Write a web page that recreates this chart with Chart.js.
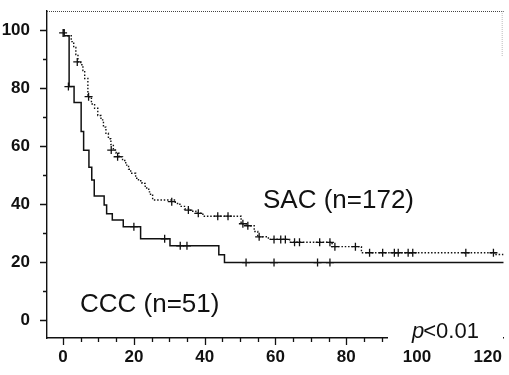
<!DOCTYPE html>
<html><head><meta charset="utf-8">
<script src="https://cdn.jsdelivr.net/npm/chart.js@4.4.0/dist/chart.umd.min.js"></script>
<style>html,body{margin:0;padding:0;background:#fff;} #wrap{width:509px;height:375px;}</style>
</head><body><div id="wrap"><canvas id="c" width="509" height="375"></canvas></div>
<script>
// Kaplan-Meier step curves (time in months, survival %)
const sacTimes = [0,0.3,2.3,3.0,3.6,4.2,5.0,5.6,6.1,7.0,8.0,8.9,9.8,10.7,11.4,12.1,12.8,13.5,14.2,15.0,15.8,16.8,17.7,18.5,19.1,20.5,21.3,22.3,23.2,24.2,24.7,25.3,31.7,33.0,34.3,36.0,37.5,39.5,50.3,51.8,54.0,55.0,58.0,64.0,76.0,84.3,122.0,124.5];
const sacSurvival = [100,98,96,94,91.5,89,88,86,83.3,77,74.5,73,70.5,69,66.5,64.4,62.5,60.5,58.6,57.5,56.3,55,53.4,52,50.6,48.9,48,47.1,45.5,44.2,43,41.4,40.2,39.2,38.3,37.5,36.8,35.8,33.2,32.5,30.5,28.7,27.8,26.8,25.3,23.2,22.6,22.6];
const cccTimes = [0,0.3,1.7,3.1,5.1,5.8,7.3,8.1,8.8,11.6,12.3,13.9,17.0,21.9,30.2,44.0,45.6,124.5];
const cccSurvival = [100,98,80.5,75,65,58.5,52.7,48.3,42.8,39.7,36.6,34.5,32.2,28,25.6,22.5,19.8,19.8];
// censored observations
const sacCensorTimes = [0,4.0,7.2,13.6,15.4,30.7,35.4,38.2,43.7,46.6,50.8,52.2,55.4,59.6,61.5,62.8,65.4,66.8,72.5,75.4,76.8,82.6,86.6,90.3,93.6,94.7,97.5,98.8,113.8,121.6];
const sacCensorSurv = [99,89,77,58.6,56.3,40.8,37.9,36.8,35.8,35.8,33.2,32.5,28.7,27.8,27.8,27.8,26.8,26.8,26.8,26.8,25.3,25.3,23.2,23.2,23.2,23.2,23.2,23.2,23.2,23.2];
const cccCensorTimes = [1.5,20.0,28.7,33.1,35.0,51.7,59.6,71.9,75.4];
const cccCensorSurv = [80.5,32.2,28,25.6,25.6,19.8,19.8,19.8,19.8];
// tick labels
const xTickLabels = [0,20,40,60,80,100,120];
const yTickLabels = [0,20,40,60,80,100];
const xMinorTicks = [0,5,10,15,20,25,30,35,40,45,50,55,60,65,70,75,80,85,90,95,100,105,110,115,120];
const yMinorTicks = [0,10,20,30,40,50,60,70,80,90,100];
const seriesNames = ['SAC (n=172)','CCC (n=51)'];

const pts = (xs, ys) => xs.map((t, i) => ({x: t, y: ys[i]}));
const INK = '#111';
const FONT = '"Liberation Sans", Arial, sans-serif';

const decor = {
  id: 'decor',
  afterDraw(chart) {
    const ctx = chart.ctx, a = chart.chartArea;
    const xs = chart.scales.x, ys = chart.scales.y;
    ctx.save();
    ctx.strokeStyle = INK; ctx.lineWidth = 1.3;
    // ticks
    ctx.beginPath();
    yMinorTicks.forEach(v => {
      const y = Math.round(ys.getPixelForValue(v)) + 0.5;
      const len = yTickLabels.includes(v) ? 7 : 4;
      ctx.moveTo(a.left - len, y); ctx.lineTo(a.left, y);
    });
    xMinorTicks.forEach(v => {
      const x = Math.round(xs.getPixelForValue(v)) + 0.5;
      const len = xTickLabels.includes(v) ? 7 : 4;
      ctx.moveTo(x, a.bottom); ctx.lineTo(x, a.bottom + len);
    });
    ctx.stroke();
    // top dotted frame
    ctx.strokeStyle = '#444'; ctx.lineWidth = 1; ctx.setLineDash([1, 1]);
    ctx.beginPath(); ctx.moveTo(a.left, a.top + 0.5); ctx.lineTo(a.right, a.top + 0.5); ctx.stroke();
    ctx.strokeStyle = '#bbb';
    ctx.beginPath(); ctx.moveTo(a.right - 1.5, a.top); ctx.lineTo(a.right - 1.5, a.top + 45); ctx.stroke();
    ctx.setLineDash([]);
    // group labels
    ctx.fillStyle = INK;
    ctx.font = '26px ' + FONT;
    ctx.textBaseline = 'alphabetic';
    ctx.fillText(seriesNames[0], 263, 208);
    ctx.fillText(seriesNames[1], 80, 311.5);
    // p-value with white box covering axis
    ctx.fillStyle = '#fff';
    ctx.fillRect(388, 318, 115, 28);
    ctx.fillStyle = INK;
    ctx.font = 'italic 22px ' + FONT;
    ctx.fillText('p', 412, 338);
    const w = ctx.measureText('p').width;
    ctx.font = '22px ' + FONT;
    ctx.fillText('<0.01', 412 + w - 1, 338);
    ctx.restore();
  }
};

new Chart(document.getElementById('c'), {
  type: 'line',
  data: {
    datasets: [
      {label: seriesNames[0], data: pts(sacTimes, sacSurvival), stepped: true, borderColor: INK, borderWidth: 1.4, borderDash: [1.5, 1.8], pointRadius: 0, fill: false},
      {label: seriesNames[1], data: pts(cccTimes, cccSurvival), stepped: true, borderColor: INK, borderWidth: 1.5, pointRadius: 0, fill: false},
      {label: 'sac censored', data: pts(sacCensorTimes, sacCensorSurv), showLine: false, pointStyle: 'cross', pointRadius: 4, pointBorderWidth: 1.3, pointBorderColor: INK, borderColor: INK},
      {label: 'ccc censored', data: pts(cccCensorTimes, cccCensorSurv), showLine: false, pointStyle: 'cross', pointRadius: 4, pointBorderWidth: 1.3, pointBorderColor: INK, borderColor: INK}
    ]
  },
  options: {
    responsive: false,
    animation: false,
    devicePixelRatio: 1,
    layout: {padding: {top: 11, right: 0, left: 0, bottom: 0}},
    plugins: {legend: {display: false}, tooltip: {enabled: false}},
    scales: {
      x: {
        type: 'linear', min: -4.55, max: 124.5,
        grid: {display: false},
        border: {display: true, color: INK, width: 1.4},
        ticks: {stepSize: 5, includeBounds: false, autoSkip: false, maxRotation: 0, padding: 1,
          color: INK, font: {family: FONT, size: 17, weight: 'bold'},
          callback: v => xTickLabels.includes(v) ? String(v) : ''},
        afterFit: s => { s.height = 37; s.paddingLeft = 0; s.paddingRight = 0; }
      },
      y: {
        type: 'linear', min: -6.2, max: 106.55,
        grid: {display: false},
        border: {display: true, color: INK, width: 1.4},
        ticks: {stepSize: 10, includeBounds: false, autoSkip: false, padding: 9,
          color: INK, font: {family: FONT, size: 17, weight: 'bold'},
          callback: v => yTickLabels.includes(v) ? String(v) : ''},
        afterFit: s => { s.width = 47; s.paddingTop = 0; s.paddingBottom = 0; }
      }
    }
  },
  plugins: [decor]
});
</script></body></html>
